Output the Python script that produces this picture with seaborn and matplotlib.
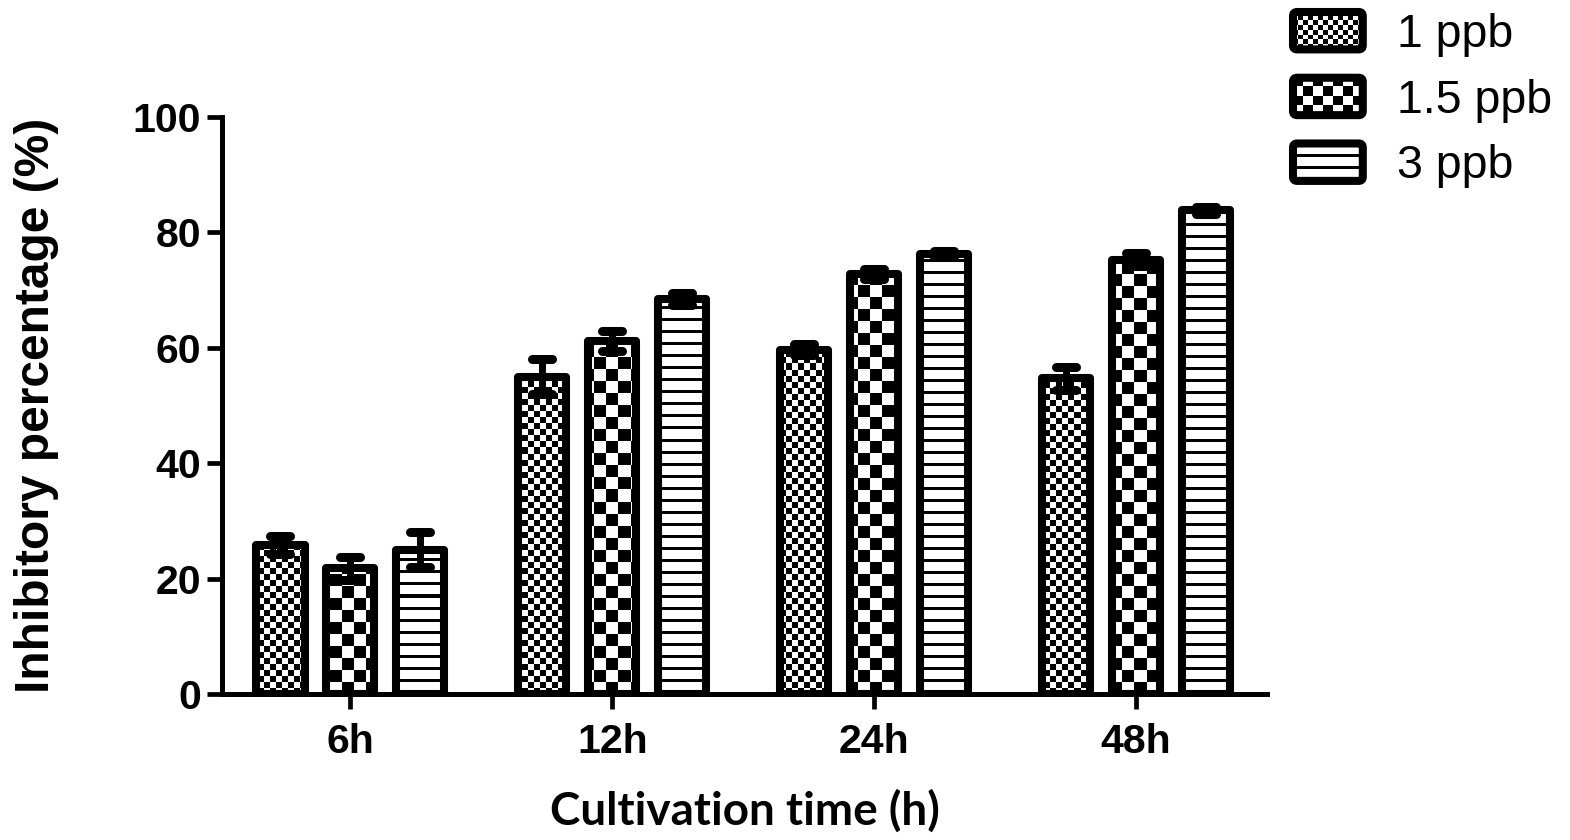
import numpy as np
import pandas as pd
import matplotlib
matplotlib.use("Agg")
import matplotlib.pyplot as plt
import seaborn as sns
from matplotlib.patches import Patch, FancyBboxPatch
from matplotlib.legend_handler import HandlerBase
from matplotlib.image import BboxImage
from matplotlib.transforms import Bbox, TransformedBbox
from matplotlib.markers import MarkerStyle

# ---------------- data ----------------
times = ["6h", "12h", "24h", "48h"]
concs = ["1 ppb", "1.5 ppb", "3 ppb"]
vals_1ppb = [25.8, 55.0, 59.7, 54.7]
vals_15ppb = [21.8, 61.2, 72.8, 75.3]
vals_3ppb = [25.0, 68.5, 76.2, 83.8]
err_1ppb = [1.5, 3.0, 0.9, 2.0]
err_15ppb = [2.0, 1.7, 0.8, 1.2]
err_3ppb = [3.0, 1.0, 0.5, 0.6]

values = [vals_1ppb, vals_15ppb, vals_3ppb]
errors = [err_1ppb, err_15ppb, err_3ppb]

df = pd.DataFrame({
    "time": [t for c in concs for t in times],
    "conc": [c for c in concs for t in times],
    "value": [v for vs in values for v in vs],
})

# ---------------- style ----------------
sns.set_style("ticks")
plt.rcParams["font.family"] = ["Liberation Sans", "DejaVu Sans"]
for key in ["text.color", "axes.labelcolor", "xtick.color", "ytick.color",
            "axes.edgecolor"]:
    plt.rcParams[key] = "black"

W, H, DPI = 1570, 840, 100
fig = plt.figure(figsize=(W / DPI, H / DPI), dpi=DPI)
ax_l, ax_b, ax_w, ax_h = 222 / W, (H - 694) / H, 1045 / W, 577 / H
ax = fig.add_axes([ax_l, ax_b, ax_w, ax_h])

sns.barplot(data=df, x="time", y="value", hue="conc", order=times,
            hue_order=concs, errorbar=None, width=0.8, gap=0.31,
            palette=["white"] * 3, edgecolor="black",
            linewidth=5.8, legend=False, ax=ax)

xlim = (-0.49, 3.5)
ylim = (0, 100)
ax.set_xlim(*xlim)
ax.set_ylim(*ylim)

# ---------------- textures ----------------
px_w, px_h = int(round(ax_w * W)), int(round(ax_h * H))


def checker(s, h, w):
    ii, jj = np.mgrid[0:h, 0:w]
    return (((ii // s) + (jj // s)) % 2).astype(float)


def stripes(period, black, h, w):
    ii, jj = np.mgrid[0:h, 0:w]
    return (ii % period >= black).astype(float)


tex = [checker(6, px_h, px_w), checker(12, px_h, px_w),
       stripes(12, 3, px_h, px_w)]

bar_conts = list(ax.containers)
for k, cont in enumerate(bar_conts):
    for bar in cont:
        bar.set_facecolor("none")
        bar.set_joinstyle("round")
        bar.set_zorder(2)
        im = ax.imshow(tex[k], extent=(xlim[0], xlim[1], ylim[0], ylim[1]),
                       origin="lower", cmap="gray", vmin=0, vmax=1,
                       interpolation="nearest", aspect="auto", zorder=1)
        im.set_clip_path(bar)

    xs = [b.get_x() + b.get_width() / 2 for b in cont]
    ys = [b.get_height() for b in cont]
    eb = ax.errorbar(xs, ys, yerr=errors[k], fmt="none", ecolor="black",
                     elinewidth=5, capsize=7.5, capthick=6.5, zorder=3)
    for cl in eb[1]:
        cl.set_marker(MarkerStyle("_", capstyle="round"))
    for lc in eb[2]:
        lc.set_capstyle("round")

ax.set_xlim(*xlim)
ax.set_ylim(*ylim)

# ---------------- axes ----------------
sns.despine(ax=ax)
for side in ["left", "bottom"]:
    ax.spines[side].set_linewidth(3.6)
    ax.spines[side].set_color("black")
ax.set_yticks([0, 20, 40, 60, 80, 100])
ax.tick_params(axis="both", length=11, width=3.4, color="black",
               labelcolor="black")
ax.tick_params(axis="y", pad=4)
ax.tick_params(axis="x", pad=10)
for lab in ax.get_yticklabels() + ax.get_xticklabels():
    lab.set_fontsize(29.5)
    lab.set_fontweight("bold")

ax.set_ylabel("Inhibitory percentage (%)", fontsize=34.5, fontweight="bold",
              labelpad=53, color="black")
ax.set_xlabel("Cultivation time (h)", fontsize=33, fontweight="bold",
              family=["Lato", "DejaVu Sans"], labelpad=20, color="black")

# ---------------- legend ----------------
leg_tex = [checker(5, 40, 70), checker(10, 40, 70), stripes(12, 3, 40, 70)]


class PatternHandler(HandlerBase):
    def __init__(self, arr):
        super().__init__()
        self.arr = arr

    def create_artists(self, legend, orig_handle, xdescent, ydescent,
                       width, height, fontsize, trans):
        bb = Bbox.from_bounds(-xdescent, -ydescent, width, height)
        img = BboxImage(TransformedBbox(bb, trans), cmap="gray",
                        interpolation="nearest")
        img.set_data(self.arr)
        img.set_clim(0, 1)
        frame = FancyBboxPatch((-xdescent, -ydescent), width, height,
                               boxstyle="round,pad=0,rounding_size=3",
                               fc="none", ec="black", lw=5.8,
                               transform=trans)
        return [img, frame]


handles = [Patch(label=c) for c in concs]
hmap = {h: PatternHandler(t) for h, t in zip(handles, leg_tex)}
fig.legend(handles=handles, labels=concs, handler_map=hmap,
           loc="upper left", bbox_to_anchor=(1293 / W, 1 - 12 / H),
           frameon=False, fontsize=33.5, handlelength=1.5, handleheight=0.86,
           handletextpad=0.73, labelspacing=0.45, borderpad=0,
           borderaxespad=0)

fig.savefig("out.png", dpi=DPI)
